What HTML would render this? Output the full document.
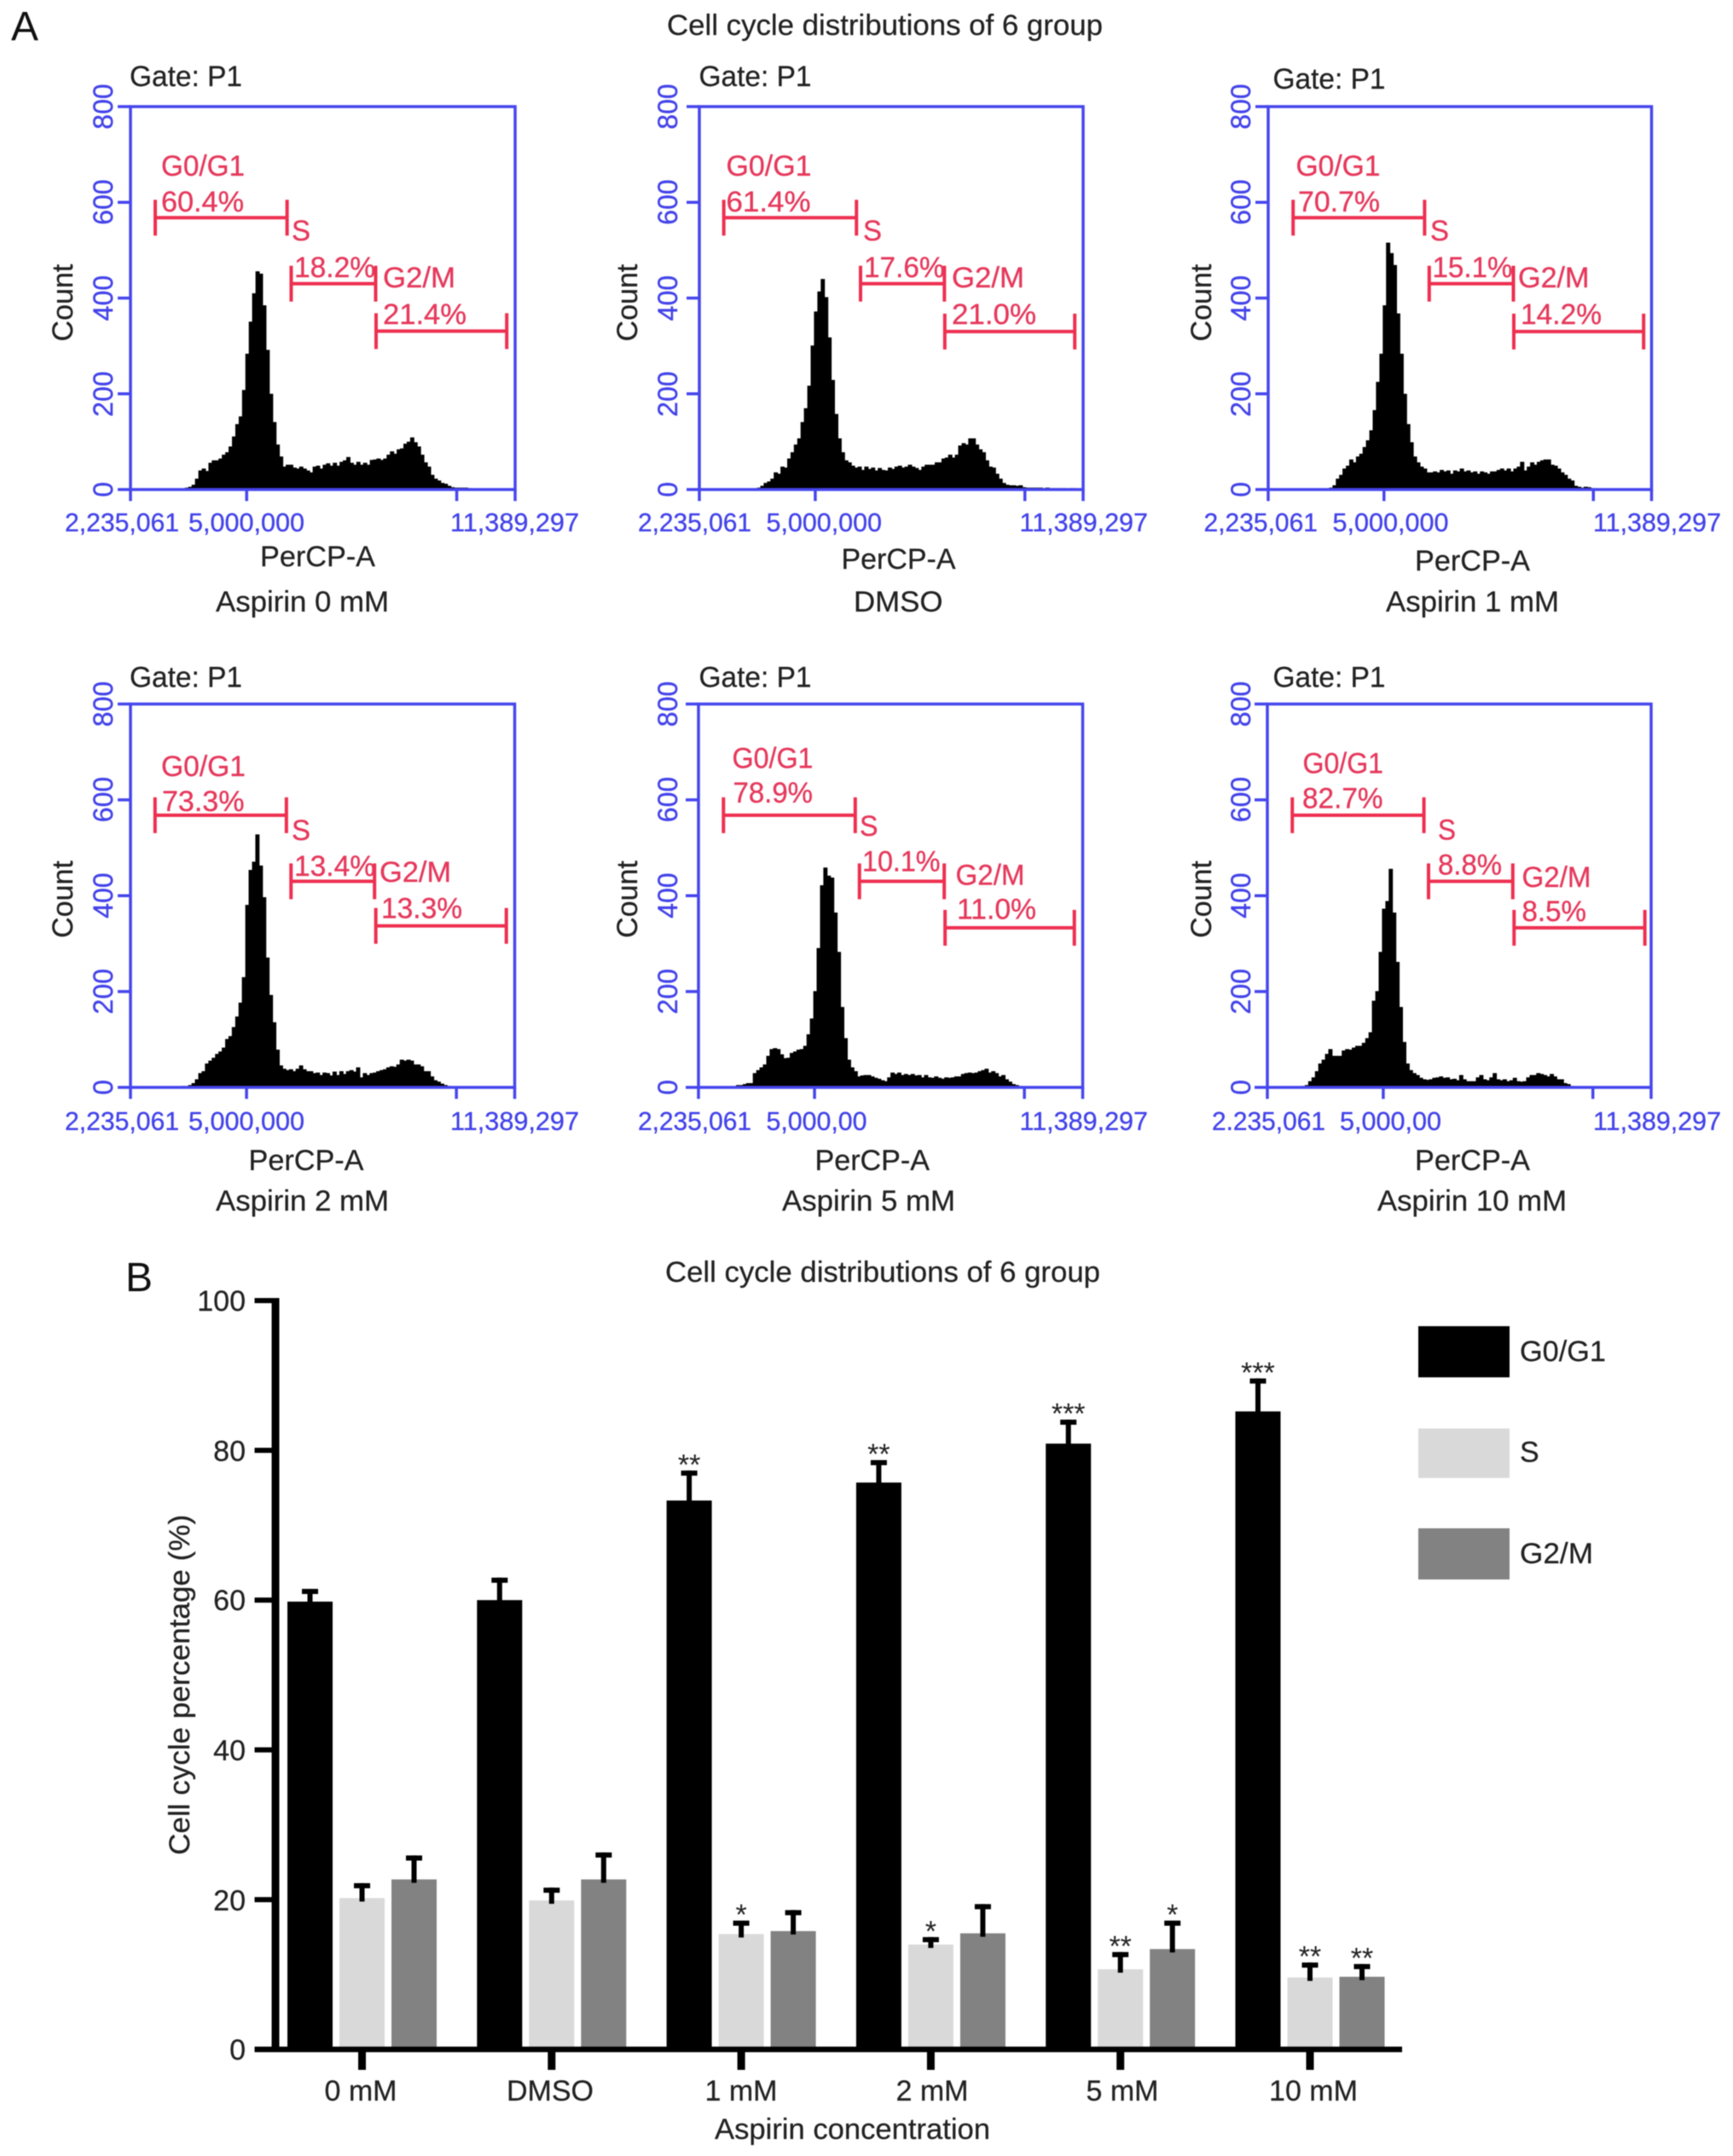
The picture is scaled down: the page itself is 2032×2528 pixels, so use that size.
<!DOCTYPE html>
<html lang="en">
<head>
<meta charset="utf-8">
<title>Cell cycle distributions of 6 group</title>
<style>
html,body{margin:0;padding:0;background:#fff;}
#figure{display:block;width:2032px;height:2528px;filter:blur(.6px);font-family:"Liberation Sans",Arial,sans-serif;}
.tb{fill:#4343ea;stroke:#4343ea;stroke-width:.35px;font-size:31px;}
.ty{fill:#4343ea;stroke:#4343ea;stroke-width:.35px;font-size:32px;text-anchor:middle;}
.tr{fill:#e6395c;stroke:#e6395c;stroke-width:.35px;font-size:34px;}
.td{fill:#222;stroke:#222;stroke-width:.25px;font-size:34px;}
.tc{fill:#222;stroke:#222;stroke-width:.25px;font-size:34px;text-anchor:middle;}
.tk{fill:#222;stroke:#222;stroke-width:.25px;font-size:34px;text-anchor:end;}
.tl{fill:#111;font-size:48px;}
</style>
</head>
<body>
<svg id="figure" xmlns="http://www.w3.org/2000/svg" width="2032" height="2528" viewBox="0 0 2032 2528">
<rect x="0" y="0" width="2032" height="2528" fill="#fff"/>
<g id="marks"></g>

<text class="tl" x="13" y="47">A</text>
<text class="td" x="782" y="41" textLength="511" lengthAdjust="spacingAndGlyphs">Cell cycle distributions of 6 group</text>

<!-- Histogram 1 -->
<g>
<text class="td" x="152" y="101" textLength="132" lengthAdjust="spacingAndGlyphs">Gate: P1</text>
<text class="tc" transform="translate(85,355) rotate(-90)">Count</text>
<text class="ty" transform="translate(132,125) rotate(-90)">800</text>
<text class="ty" transform="translate(132,237) rotate(-90)">600</text>
<text class="ty" transform="translate(132,349.5) rotate(-90)">400</text>
<text class="ty" transform="translate(132,462) rotate(-90)">200</text>
<text class="ty" transform="translate(132,574) rotate(-90)">0</text>
<text class="tb" x="76" y="623" textLength="134" lengthAdjust="spacingAndGlyphs">2,235,061</text>
<text class="tb" x="221" y="623" textLength="136" lengthAdjust="spacingAndGlyphs">5,000,000</text>
<text class="tb" x="528" y="623" textLength="151" lengthAdjust="spacingAndGlyphs">11,389,297</text>
<text class="td" x="305" y="664" textLength="135" lengthAdjust="spacingAndGlyphs">PerCP-A</text>
<text class="td" x="253" y="717" textLength="203" lengthAdjust="spacingAndGlyphs">Aspirin 0 mM</text>
<text class="tr" x="189" y="206" textLength="98" lengthAdjust="spacingAndGlyphs">G0/G1</text>
<text class="tr" x="189" y="248" textLength="97" lengthAdjust="spacingAndGlyphs">60.4%</text>
<text class="tr" x="342" y="282" textLength="22" lengthAdjust="spacingAndGlyphs">S</text>
<text class="tr" x="345" y="325" textLength="95" lengthAdjust="spacingAndGlyphs">18.2%</text>
<text class="tr" x="449" y="337" textLength="85" lengthAdjust="spacingAndGlyphs">G2/M</text>
<text class="tr" x="449" y="380" textLength="98" lengthAdjust="spacingAndGlyphs">21.4%</text>
</g>

<!-- Histogram 2 -->
<g>
<text class="td" x="819.5" y="101" textLength="132" lengthAdjust="spacingAndGlyphs">Gate: P1</text>
<text class="tc" transform="translate(747,355) rotate(-90)">Count</text>
<text class="ty" transform="translate(794,125) rotate(-90)">800</text>
<text class="ty" transform="translate(794,237) rotate(-90)">600</text>
<text class="ty" transform="translate(794,349.5) rotate(-90)">400</text>
<text class="ty" transform="translate(794,462) rotate(-90)">200</text>
<text class="ty" transform="translate(794,574) rotate(-90)">0</text>
<text class="tb" x="748" y="623" textLength="133" lengthAdjust="spacingAndGlyphs">2,235,061</text>
<text class="tb" x="898.5" y="623" textLength="135.5" lengthAdjust="spacingAndGlyphs">5,000,000</text>
<text class="tb" x="1195.5" y="623" textLength="150.5" lengthAdjust="spacingAndGlyphs">11,389,297</text>
<text class="td" x="986.5" y="667" textLength="134" lengthAdjust="spacingAndGlyphs">PerCP-A</text>
<text class="td" x="1001" y="717" textLength="104.5" lengthAdjust="spacingAndGlyphs">DMSO</text>
<text class="tr" x="851.5" y="206" textLength="100" lengthAdjust="spacingAndGlyphs">G0/G1</text>
<text class="tr" x="851.5" y="248" textLength="99" lengthAdjust="spacingAndGlyphs">61.4%</text>
<text class="tr" x="1012" y="282" textLength="22" lengthAdjust="spacingAndGlyphs">S</text>
<text class="tr" x="1013" y="325" textLength="94.5" lengthAdjust="spacingAndGlyphs">17.6%</text>
<text class="tr" x="1116" y="337" textLength="85" lengthAdjust="spacingAndGlyphs">G2/M</text>
<text class="tr" x="1116" y="380" textLength="99" lengthAdjust="spacingAndGlyphs">21.0%</text>
</g>

<!-- Histogram 3 -->
<g>
<text class="td" x="1492.5" y="104" textLength="132" lengthAdjust="spacingAndGlyphs">Gate: P1</text>
<text class="tc" transform="translate(1420,355) rotate(-90)">Count</text>
<text class="ty" transform="translate(1466,125) rotate(-90)">800</text>
<text class="ty" transform="translate(1466,237) rotate(-90)">600</text>
<text class="ty" transform="translate(1466,349.5) rotate(-90)">400</text>
<text class="ty" transform="translate(1466,462) rotate(-90)">200</text>
<text class="ty" transform="translate(1466,574) rotate(-90)">0</text>
<text class="tb" x="1411.5" y="623" textLength="133.5" lengthAdjust="spacingAndGlyphs">2,235,061</text>
<text class="tb" x="1562.5" y="623" textLength="136" lengthAdjust="spacingAndGlyphs">5,000,000</text>
<text class="tb" x="1868" y="623" textLength="150" lengthAdjust="spacingAndGlyphs">11,389,297</text>
<text class="td" x="1659" y="669" textLength="135" lengthAdjust="spacingAndGlyphs">PerCP-A</text>
<text class="td" x="1625" y="717" textLength="203" lengthAdjust="spacingAndGlyphs">Aspirin 1 mM</text>
<text class="tr" x="1519.5" y="206" textLength="99" lengthAdjust="spacingAndGlyphs">G0/G1</text>
<text class="tr" x="1522" y="248" textLength="96" lengthAdjust="spacingAndGlyphs">70.7%</text>
<text class="tr" x="1677" y="282" textLength="22" lengthAdjust="spacingAndGlyphs">S</text>
<text class="tr" x="1679.5" y="325" textLength="94" lengthAdjust="spacingAndGlyphs">15.1%</text>
<text class="tr" x="1780" y="337" textLength="83.5" lengthAdjust="spacingAndGlyphs">G2/M</text>
<text class="tr" x="1783" y="380" textLength="95" lengthAdjust="spacingAndGlyphs">14.2%</text>
</g>

<!-- Histogram 4 -->
<g>
<text class="td" x="152" y="805.5" textLength="132" lengthAdjust="spacingAndGlyphs">Gate: P1</text>
<text class="tc" transform="translate(85,1054.5) rotate(-90)">Count</text>
<text class="ty" transform="translate(132,825.5) rotate(-90)">800</text>
<text class="ty" transform="translate(132,937.5) rotate(-90)">600</text>
<text class="ty" transform="translate(132,1050) rotate(-90)">400</text>
<text class="ty" transform="translate(132,1162.5) rotate(-90)">200</text>
<text class="ty" transform="translate(132,1275) rotate(-90)">0</text>
<text class="tb" x="76" y="1325" textLength="134" lengthAdjust="spacingAndGlyphs">2,235,061</text>
<text class="tb" x="221" y="1325" textLength="136" lengthAdjust="spacingAndGlyphs">5,000,000</text>
<text class="tb" x="528" y="1325" textLength="151" lengthAdjust="spacingAndGlyphs">11,389,297</text>
<text class="td" x="291.5" y="1372" textLength="135" lengthAdjust="spacingAndGlyphs">PerCP-A</text>
<text class="td" x="253" y="1419.5" textLength="203" lengthAdjust="spacingAndGlyphs">Aspirin 2 mM</text>
<text class="tr" x="189" y="910" textLength="99" lengthAdjust="spacingAndGlyphs">G0/G1</text>
<text class="tr" x="190" y="951" textLength="96.5" lengthAdjust="spacingAndGlyphs">73.3%</text>
<text class="tr" x="342" y="985" textLength="22" lengthAdjust="spacingAndGlyphs">S</text>
<text class="tr" x="345" y="1027" textLength="95" lengthAdjust="spacingAndGlyphs">13.4%</text>
<text class="tr" x="445" y="1034" textLength="84" lengthAdjust="spacingAndGlyphs">G2/M</text>
<text class="tr" x="447" y="1076.5" textLength="95" lengthAdjust="spacingAndGlyphs">13.3%</text>
</g>

<!-- Histogram 5 -->
<g>
<text class="td" x="819.5" y="805.5" textLength="132" lengthAdjust="spacingAndGlyphs">Gate: P1</text>
<text class="tc" transform="translate(747,1054.5) rotate(-90)">Count</text>
<text class="ty" transform="translate(794,825.5) rotate(-90)">800</text>
<text class="ty" transform="translate(794,937.5) rotate(-90)">600</text>
<text class="ty" transform="translate(794,1050) rotate(-90)">400</text>
<text class="ty" transform="translate(794,1162.5) rotate(-90)">200</text>
<text class="ty" transform="translate(794,1275) rotate(-90)">0</text>
<text class="tb" x="748" y="1325" textLength="133" lengthAdjust="spacingAndGlyphs">2,235,061</text>
<text class="tb" x="898.5" y="1325" textLength="118" lengthAdjust="spacingAndGlyphs">5,000,00</text>
<text class="tb" x="1195.5" y="1325" textLength="150.5" lengthAdjust="spacingAndGlyphs">11,389,297</text>
<text class="td" x="955.5" y="1372" textLength="134.5" lengthAdjust="spacingAndGlyphs">PerCP-A</text>
<text class="td" x="917" y="1419.5" textLength="203" lengthAdjust="spacingAndGlyphs">Aspirin 5 mM</text>
<text class="tr" x="858.5" y="900.5" textLength="95" lengthAdjust="spacingAndGlyphs">G0/G1</text>
<text class="tr" x="859.5" y="941" textLength="93.5" lengthAdjust="spacingAndGlyphs">78.9%</text>
<text class="tr" x="1008" y="980" textLength="21.5" lengthAdjust="spacingAndGlyphs">S</text>
<text class="tr" x="1011" y="1021.5" textLength="91.5" lengthAdjust="spacingAndGlyphs">10.1%</text>
<text class="tr" x="1120.5" y="1037.5" textLength="81" lengthAdjust="spacingAndGlyphs">G2/M</text>
<text class="tr" x="1122" y="1077.5" textLength="93" lengthAdjust="spacingAndGlyphs">11.0%</text>
</g>

<!-- Histogram 6 -->
<g>
<text class="td" x="1492.5" y="805.5" textLength="132" lengthAdjust="spacingAndGlyphs">Gate: P1</text>
<text class="tc" transform="translate(1420,1054.5) rotate(-90)">Count</text>
<text class="ty" transform="translate(1466,825.5) rotate(-90)">800</text>
<text class="ty" transform="translate(1466,937.5) rotate(-90)">600</text>
<text class="ty" transform="translate(1466,1050) rotate(-90)">400</text>
<text class="ty" transform="translate(1466,1162.5) rotate(-90)">200</text>
<text class="ty" transform="translate(1466,1275) rotate(-90)">0</text>
<text class="tb" x="1421" y="1325" textLength="133" lengthAdjust="spacingAndGlyphs">2.235,061</text>
<text class="tb" x="1571" y="1325" textLength="119" lengthAdjust="spacingAndGlyphs">5,000,00</text>
<text class="tb" x="1868" y="1325" textLength="150" lengthAdjust="spacingAndGlyphs">11,389,297</text>
<text class="td" x="1659" y="1372" textLength="135" lengthAdjust="spacingAndGlyphs">PerCP-A</text>
<text class="td" x="1615" y="1419.5" textLength="222" lengthAdjust="spacingAndGlyphs">Aspirin 10 mM</text>
<text class="tr" x="1527.5" y="906.5" textLength="94.5" lengthAdjust="spacingAndGlyphs">G0/G1</text>
<text class="tr" x="1527" y="947.5" textLength="94.5" lengthAdjust="spacingAndGlyphs">82.7%</text>
<text class="tr" x="1686" y="984.5" textLength="21" lengthAdjust="spacingAndGlyphs">S</text>
<text class="tr" x="1686" y="1025.5" textLength="75" lengthAdjust="spacingAndGlyphs">8.8%</text>
<text class="tr" x="1784.5" y="1040" textLength="81" lengthAdjust="spacingAndGlyphs">G2/M</text>
<text class="tr" x="1784.5" y="1080" textLength="75.5" lengthAdjust="spacingAndGlyphs">8.5%</text>
</g>

<!-- Panel B labels -->
<text class="tl" x="147" y="1514">B</text>
<text class="td" x="780" y="1503" textLength="510" lengthAdjust="spacingAndGlyphs">Cell cycle distributions of 6 group</text>
<text class="tc" transform="translate(222,1975.5) rotate(-90)" textLength="399" lengthAdjust="spacingAndGlyphs">Cell cycle percentage (%)</text>
<text class="tk" x="288" y="1537">100</text>
<text class="tk" x="288" y="1713">80</text>
<text class="tk" x="288" y="1888">60</text>
<text class="tk" x="288" y="2064">40</text>
<text class="tk" x="288" y="2240">20</text>
<text class="tk" x="288" y="2415">0</text>
<text class="tc" x="423" y="2463">0 mM</text>
<text class="tc" x="645" y="2463">DMSO</text>
<text class="tc" x="869" y="2463">1 mM</text>
<text class="tc" x="1093" y="2463">2 mM</text>
<text class="tc" x="1316" y="2463">5 mM</text>
<text class="tc" x="1540" y="2463">10 mM</text>
<text class="td" x="838" y="2508" textLength="323" lengthAdjust="spacingAndGlyphs">Aspirin concentration</text>

<g>
<rect x="1663" y="1555" width="107" height="60" fill="#000"/>
<text class="td" x="1782" y="1596" textLength="101" lengthAdjust="spacingAndGlyphs">G0/G1</text>
<rect x="1663" y="1675" width="107" height="58" fill="#d9d9d9"/>
<text class="td" x="1782" y="1714">S</text>
<rect x="1663" y="1792" width="107" height="60" fill="#828282"/>
<text class="td" x="1782" y="1833" textLength="86" lengthAdjust="spacingAndGlyphs">G2/M</text>
</g>
</svg>

<script>
/* ---------- Histogram data (panel A) ---------- */
const binStartM = 3.02;
const binWidthM = 0.08;
const xDomainM = [2.235061, 11.389297];
const yDomainCount = [0, 800];
const histXTicksM = [2.235061, 5, 10, 11.389297];
const histYTicks = [0, 200, 400, 600, 800];
const histNames = ['aspirin-0mm', 'dmso', 'aspirin-1mm', 'aspirin-2mm', 'aspirin-5mm', 'aspirin-10mm'];

const countsAspirin0 = [0,0,0,0,0,0,0,3,5,9,22,39,43,38,55,60,60,64,72,77,89,110,136,152,207,283,350,409,455,450,384,291,199,140,93,68,47,51,51,45,43,47,43,39,35,47,49,43,51,54,49,55,49,57,60,67,55,51,57,51,55,51,61,62,64,61,64,72,79,74,83,85,95,99,108,98,89,72,56,47,30,22,18,13,11,7,4,3,3,3,3,2];
const countsDmso = [0,0,0,0,0,0,0,1,3,7,13,16,22,35,32,47,45,64,77,93,106,140,169,216,300,371,413,439,401,317,228,157,106,77,60,56,49,45,47,40,47,42,45,39,44,40,39,45,42,47,49,45,47,51,47,44,40,47,51,51,51,56,56,64,66,72,66,72,91,96,93,106,106,93,83,77,60,47,45,32,22,13,9,8,8,7,8,4,3,3,3,3,3,2,3,2,2,2,2,2,1,2,2,1];
const countsAspirin1 = [0,0,0,0,0,0,0,0,1,3,8,22,30,43,49,62,56,68,74,88,102,123,165,224,283,384,515,493,468,367,283,199,136,98,68,56,47,43,35,35,37,35,40,37,39,32,39,37,43,37,39,35,37,32,37,35,32,37,37,40,43,39,43,37,43,47,57,39,47,56,51,57,60,62,62,51,49,43,35,30,22,18,7,5,3,5,4,2];
const countsAspirin2 = [0,0,0,0,0,0,2,2,4,8,16,29,33,49,55,61,69,74,82,100,106,125,147,176,229,380,453,470,527,462,396,270,192,135,78,45,38,35,37,33,38,45,37,33,33,29,30,25,30,29,24,32,25,33,27,33,35,32,41,20,29,25,29,30,33,35,37,41,43,42,47,57,55,57,55,47,47,43,33,33,22,14,11,7,4,2,1];
const countsAspirin5 = [0,0,4,4,6,8,8,29,35,41,47,65,79,81,79,68,60,61,71,74,78,79,86,110,143,200,290,421,458,441,437,364,282,167,102,57,41,33,22,24,25,25,22,19,17,14,12,20,30,27,30,25,27,25,27,24,25,20,25,20,19,22,19,17,20,19,20,22,22,27,29,30,29,30,33,35,38,30,33,29,22,25,16,11,6,4,2,1];
const countsAspirin10 = [0,2,4,12,20,33,49,57,69,79,65,65,65,76,79,78,82,86,86,92,102,114,180,200,282,372,388,455,364,261,167,94,49,35,29,25,19,16,15,16,19,20,22,19,20,16,17,14,25,16,12,12,12,20,25,16,14,20,29,16,14,16,12,14,19,12,11,12,20,25,25,29,27,25,22,27,22,16,16,8,6,2];

/* Gate edges on the PerCP-A axis (millions) and their heights in counts */
const gateEdgesAspirin0 = [2.824, 5.962, 6.06, 8.07, 8.08, 11.19];
const gateEdgesDmso = [2.818, 5.983, 6.08, 8.08, 8.09, 11.19];
const gateEdgesAspirin1 = [2.83, 5.97, 6.08, 8.09, 8.10, 11.2];
const gateEdgesAspirin2 = [2.82, 5.95, 6.06, 8.05, 8.08, 11.19];
const gateEdgesAspirin5 = [2.83, 5.97, 6.07, 8.09, 8.11, 11.19];
const gateEdgesAspirin10 = [2.83, 5.97, 6.08, 8.09, 8.12, 11.24];
const gateLevelsAspirin0 = [568, 430, 331];
const gateLevelsDmso = [568, 430, 330];
const gateLevelsAspirin1 = [568, 430, 330];
const gateLevelsAspirin2 = [568, 430, 337];
const gateLevelsAspirin5 = [568, 430, 333];
const gateLevelsAspirin10 = [568, 430, 333];

/* ---------- Bar chart data (panel B) ---------- */
const barCategories = ['0 mM', 'DMSO', '1 mM', '2 mM', '5 mM', '10 mM'];
const barYTicks = [0, 20, 40, 60, 80, 100];
const g0g1Values = [59.8, 60.0, 73.3, 75.7, 80.9, 85.2];
const sValues = [20.2, 19.9, 15.4, 14.0, 10.7, 9.6];
const g2mValues = [22.7, 22.7, 15.8, 15.5, 13.4, 9.7];
const g0g1ErrorTops = [61.5, 63.0, 77.3, 78.7, 84.1, 89.6];
const sErrorTops = [22.2, 21.6, 17.2, 15.0, 13.0, 11.6];
const g2mErrorTops = [25.9, 26.3, 18.6, 19.4, 17.2, 11.4];
const g0g1Stars = ['', '', '**', '**', '***', '***'];
const sStars = ['', '', '*', '*', '**', '**'];
const g2mStars = ['', '', '', '', '*', '**'];

/* ---------- Layout ---------- */
const histCounts = [countsAspirin0, countsDmso, countsAspirin1, countsAspirin2, countsAspirin5, countsAspirin10];
const histGateEdges = [gateEdgesAspirin0, gateEdgesDmso, gateEdgesAspirin1, gateEdgesAspirin2, gateEdgesAspirin5, gateEdgesAspirin10];
const histGateLevels = [gateLevelsAspirin0, gateLevelsDmso, gateLevelsAspirin1, gateLevelsAspirin2, gateLevelsAspirin5, gateLevelsAspirin10];
const histBoxes = [
  {l:153, r:604, t:125, b:574},
  {l:820, r:1270, t:125, b:574},
  {l:1487, r:1936.5, t:125, b:574},
  {l:153, r:603.5, t:825.5, b:1275},
  {l:819, r:1269.5, t:825.5, b:1275},
  {l:1486, r:1936, t:825.5, b:1275}
];
const BLUE = '#4646ee';
const RED = '#ee2f50';
const NS = 'http://www.w3.org/2000/svg';
const marks = document.getElementById('marks');

function mk(parent, tag, attrs) {
  const el = document.createElementNS(NS, tag);
  for (const k in attrs) el.setAttribute(k, attrs[k]);
  parent.appendChild(el);
  return el;
}

function drawHistogram(idx) {
  const box = histBoxes[idx];
  const counts = histCounts[idx];
  const xs = v => box.l + (v - xDomainM[0]) / (xDomainM[1] - xDomainM[0]) * (box.r - box.l);
  const ys = c => box.b - (c - yDomainCount[0]) / (yDomainCount[1] - yDomainCount[0]) * (box.b - box.t);

  const g = mk(marks, 'g', {});
  
  

  let d = 'M' + xs(binStartM - binWidthM / 2).toFixed(1) + ' ' + ys(0).toFixed(1);
  counts.forEach((c, i) => {
    const c0 = binStartM + i * binWidthM;
    d += 'L' + xs(c0 - binWidthM / 2).toFixed(1) + ' ' + ys(c).toFixed(1);
    d += 'L' + xs(c0 + binWidthM / 2).toFixed(1) + ' ' + ys(c).toFixed(1);
  });
  d += 'L' + xs(binStartM + (counts.length - .5) * binWidthM).toFixed(1) + ' ' + ys(0).toFixed(1) + 'Z';
  const hist = mk(g, 'path', {d: d, fill: '#000', stroke: '#000', 'stroke-width': 1});
  
  

  const frame = mk(g, 'rect', {x: box.l, y: box.t, width: box.r - box.l, height: box.b - box.t, fill: 'none', stroke: BLUE, 'stroke-width': 3.5});
  
  

  histYTicks.forEach(t => {
    const tick = mk(g, 'line', {x1: box.l - 15, x2: box.l, y1: ys(t), y2: ys(t), stroke: BLUE, 'stroke-width': 3.5});
    
    
  });
  histXTicksM.forEach(t => {
    const tick = mk(g, 'line', {x1: xs(t), x2: xs(t), y1: box.b, y2: box.b + 13.5, stroke: BLUE, 'stroke-width': 3.5});
    
    
  });

  const edges = histGateEdges[idx];
  const levels = histGateLevels[idx];
  const gateNames = ['gate-g0g1', 'gate-s', 'gate-g2m'];
  levels.forEach((lvl, j) => {
    const x1 = xs(edges[j * 2]);
    const x2 = xs(edges[j * 2 + 1]);
    const y = ys(lvl);
    const path = mk(g, 'path', {
      d: 'M' + x1 + ' ' + (y - 21) + 'V' + (y + 21) + 'M' + x1 + ' ' + y + 'H' + x2 + 'M' + x2 + ' ' + (y - 21) + 'V' + (y + 21),
      fill: 'none', stroke: RED, 'stroke-width': 4
    });
    
    
  });
}
histCounts.forEach((_, i) => drawHistogram(i));

/* ---------- Bar chart ---------- */
const barX0 = 424.5, barGroupStep = 222.3, barSeriesStep = 61, barWidth = 53;
const barAxisY0 = 2403, barAxisY100 = 1525;
const barY = v => barAxisY0 - v / 100 * (barAxisY0 - barAxisY100);
const groupX = i => barX0 + i * barGroupStep;

const chartB = mk(marks, 'g', {});



const seriesNames = ['g0g1', 's', 'g2m'];
const seriesColors = ['#000', '#d9d9d9', '#828282'];
const seriesValues = [g0g1Values, sValues, g2mValues];
const seriesTops = [g0g1ErrorTops, sErrorTops, g2mErrorTops];
const seriesStars = [g0g1Stars, sStars, g2mStars];

seriesValues.forEach((vals, s) => {
  vals.forEach((v, i) => {
    const cx = groupX(i) + (s - 1) * barSeriesStep;
    const top = seriesTops[s][i];
    const bar = mk(chartB, 'rect', {x: cx - barWidth / 2, y: barY(v), width: barWidth, height: barAxisY0 - barY(v), fill: seriesColors[s]});
    
    
    const cap = mk(chartB, 'rect', {x: cx - 9.5, y: barY(top), width: 19, height: 6, fill: '#000'});
    
    
    const stem = mk(chartB, 'rect', {x: cx - 3, y: barY(top), width: 6, height: barY(v) - barY(top) + 4, fill: '#000'});
    
    
    const star = seriesStars[s][i];
    if (star) {
      const t = mk(chartB, 'text', {x: cx, y: barY(top) - 15 + 19.5, 'text-anchor': 'middle', fill: '#222', 'font-size': 34});
      
      
      t.textContent = star;
    }
  });
});

const yAxisLine = mk(chartB, 'rect', {x: 318.5, y: barY(100) - 3, width: 9, height: barAxisY0 - barY(100) + 6, fill: '#000'});


const xAxisLine = mk(chartB, 'rect', {x: 298.5, y: barAxisY0 - 3.25, width: 1345.5, height: 6.5, fill: '#000'});



barYTicks.forEach(t => {
  const tick = mk(chartB, 'rect', {x: 298.5, y: barY(t) - 3, width: 24, height: 6, fill: '#000'});
  
  
});
barCategories.forEach((c, i) => {
  const tick = mk(chartB, 'rect', {x: groupX(i) - 4.5, y: barAxisY0, width: 9, height: 24, fill: '#000'});
  
  
});
</script>
</body>
</html>
